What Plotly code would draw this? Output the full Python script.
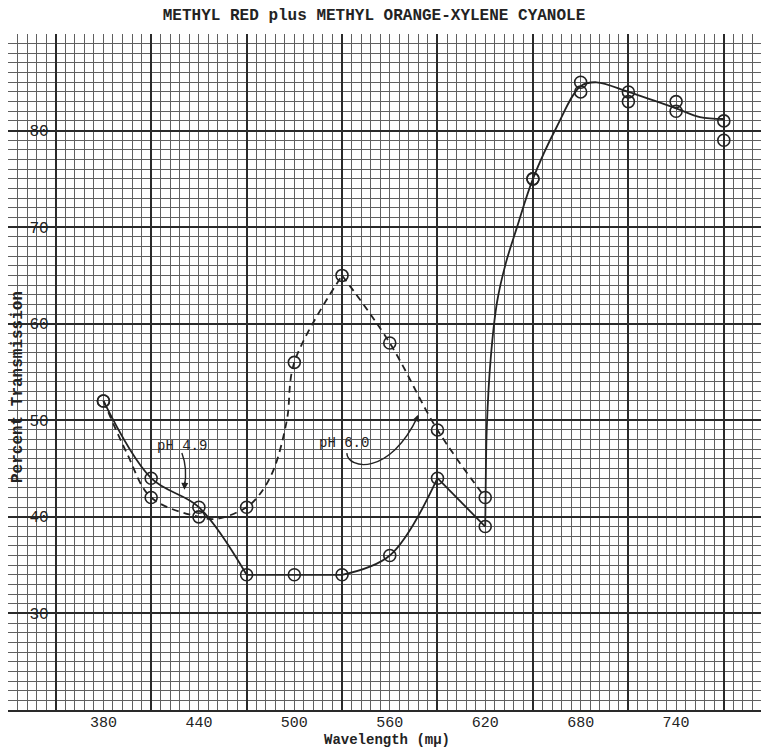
import plotly.graph_objects as go

wavelength = [380, 410, 440, 470, 500, 530, 560, 590, 620, 650, 680, 710, 740, 770]
ph49_pct = [52, 44, 41, 34, 34, 34, 36, 44, 39, 75, 84, 83, 82, 79]
ph60_pct = [52, 42, 40, 41, 56, 65, 58, 49, 42, 75, 85, 84, 83, 81]

# hand-drawn curves
solid_a_x = [380, 410, 440, 470]
solid_a_y = [52, 44, 41, 34]
solid_b_x = [470, 500, 530]
solid_b_y = [34, 34, 34]
solid_c_x = [530, 560, 590]
solid_c_y = [34, 36, 44]
solid_d_x = [590, 620]
solid_d_y = [44, 39]
solid_e_x = [620, 620.3, 621, 623.5, 627.5, 633, 640, 650, 665, 680, 690, 710, 740, 755, 770]
solid_e_y = [39, 43, 49.3, 56.5, 62.3, 66.3, 70.0, 75, 80.4, 84.6, 85.0, 84.0, 82.3, 81.4, 81.2]

dash_a_x = [380, 394.7, 410, 440, 451.3, 470, 478.5, 487, 495.3, 500, 530]
dash_a_y = [52, 46.6, 42, 40, 39.8, 41, 42.4, 44.9, 50.0, 56, 65]
dash_b_x = [530, 560, 590, 620]
dash_b_y = [65, 58, 49, 42]

# axes
x_tick_vals = [380, 440, 500, 560, 620, 680, 740]
x_tick_text = ["380", "440", "500", "560", "620", "680", "740"]
x_heavy = [350, 410, 470, 530, 590, 650, 710, 770]
y_tick_vals = [20, 30, 40, 50, 60, 70, 80, 90]
y_tick_text = ["", "30", "40", "50", "60", "70", "80", ""]
x_range = [320, 794]
y_range = [20, 90]

INK = "#232323"
MINOR = "#606060"
HEAVY = "#2a2a2a"
FONT = "Liberation Mono"

# the page body keeps an 8px margin, so the figure is 8px smaller
W, H = 761, 740
ML, MR, MT, MB = 0, 7, 26, 38
PW = W - ML - MR
PH = H - MT - MB

fig = go.Figure()


def add_curve(xs, ys, shape="spline", dash="solid"):
    fig.add_trace(go.Scatter(
        x=xs, y=ys, mode="lines", showlegend=False, hoverinfo="skip",
        line=dict(color=INK, width=1.8, shape=shape, dash=dash),
    ))


add_curve(solid_a_x, solid_a_y)
add_curve(solid_b_x, solid_b_y, shape="linear")
add_curve(solid_c_x, solid_c_y)
add_curve(solid_d_x, solid_d_y, shape="linear")
add_curve(solid_e_x, solid_e_y)
add_curve(dash_a_x, dash_a_y, dash="7px,5px")
add_curve(dash_b_x, dash_b_y, dash="7px,5px")

marker = dict(symbol="circle-open", size=12, color=INK, line=dict(color=INK, width=1.6))
fig.add_trace(go.Scatter(x=wavelength, y=ph49_pct, mode="markers", name="pH 4.9",
                         marker=marker, showlegend=False))
fig.add_trace(go.Scatter(x=wavelength, y=ph60_pct, mode="markers", name="pH 6.0",
                         marker=marker, showlegend=False, xaxis="x2"))

fig.update_layout(
    width=W, height=H,
    margin=dict(l=ML, r=MR, t=MT, b=MB),
    paper_bgcolor="white", plot_bgcolor="white",
    showlegend=False,
    title=dict(text="METHYL RED plus METHYL ORANGE-XYLENE CYANOLE",
               font=dict(family=FONT, size=16, color=INK, weight="bold"),
               x=(374 - 8) / W, xanchor="center", y=1 - 6 / H, yanchor="middle",
               yref="container"),
    xaxis=dict(
        range=x_range, tickvals=x_tick_vals, ticktext=x_tick_text,
        showgrid=True, gridcolor=MINOR, gridwidth=1,
        minor=dict(tick0=320, dtick=6, showgrid=True, gridcolor=MINOR, gridwidth=1),
        zeroline=False, showline=True, linecolor=HEAVY, linewidth=2, ticks="",
        ticklabelstandoff=-3,
        tickfont=dict(family=FONT, size=15, color=INK),
        automargin=False, fixedrange=True,
    ),
    xaxis2=dict(
        overlaying="x", matches="x", range=x_range, anchor="y",
        tickvals=x_heavy, showticklabels=False, ticks="",
        showgrid=True, gridcolor=HEAVY, gridwidth=2, zeroline=False, showline=False,
    ),
    yaxis=dict(
        range=y_range, tickvals=y_tick_vals, ticktext=y_tick_text,
        showgrid=True, gridcolor=HEAVY, gridwidth=2,
        minor=dict(tick0=20, dtick=1, showgrid=True, gridcolor=MINOR, gridwidth=1),
        zeroline=False, showline=False, ticks="",
        anchor="free", position=(350 - 320) / (794 - 320),
        ticklabelstandoff=7,
        tickfont=dict(family=FONT, size=16, color=INK),
        automargin=False, fixedrange=True,
    ),
    shapes=[
        dict(type="path", xref="x", yref="y", path="M 429.3,46.6 Q 433,45 430.9,43.1",
             line=dict(color=INK, width=1.4)),
        dict(type="path", xref="x", yref="y", path="M 533,46.6 C 533.5,44.9 560,44.2 577.6,50.4",
             line=dict(color=INK, width=1.4)),
    ],
    annotations=[
        dict(text="Wavelength (mμ)", xref="paper", yref="paper",
             x=(387 - 8) / PW, y=-(740 - 710) / PH, xanchor="center", yanchor="middle",
             showarrow=False,
             font=dict(family=FONT, size=14, color=INK, weight="bold")),
        dict(text="Percent Transmission", xref="paper", yref="paper",
             x=(18 - 8) / PW, y=(710 - 387) / PH, xanchor="center", yanchor="middle",
             textangle=-90, showarrow=False,
             font=dict(family=FONT, size=16, color=INK, weight="bold")),
        dict(text="pH 4.9", xref="x", yref="y", x=429.5, y=47.3, showarrow=False,
             font=dict(family=FONT, size=14, color=INK)),
        dict(text="pH 6.0", xref="x", yref="y", x=531.3, y=47.6, showarrow=False,
             font=dict(family=FONT, size=14, color=INK)),
        dict(text="", xref="x", yref="y", axref="x", ayref="y",
             x=430.9, y=42.8, ax=431.2, ay=43.8, showarrow=True,
             arrowhead=2, arrowsize=1, arrowwidth=1.4, arrowcolor=INK),
        dict(text="", xref="x", yref="y", axref="x", ayref="y",
             x=578, y=50.6, ax=576.2, ay=49.8, showarrow=True,
             arrowhead=2, arrowsize=1, arrowwidth=1.4, arrowcolor=INK),
    ],
)

fig.write_html("out.html")
